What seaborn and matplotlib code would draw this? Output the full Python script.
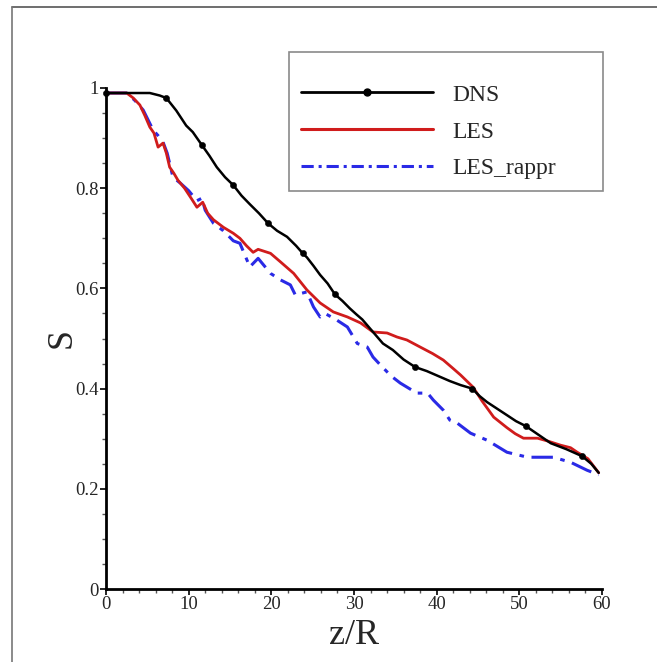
import numpy as np
import pandas as pd
import matplotlib
matplotlib.use("Agg")
import matplotlib.pyplot as plt
from matplotlib.lines import Line2D
from matplotlib.ticker import MultipleLocator, FuncFormatter
import seaborn as sns

# ---------------- data ----------------
dns_x = [0, 2, 4, 5.3, 6.5, 7.3, 8.5, 9.7, 10.5, 11.6, 12.5, 13.4, 14.4, 15.4, 16.4,
         17.4, 18.5, 19.6, 20.7, 21.9, 23.0, 23.8, 24.3, 25.1, 25.9, 26.8, 27.7, 28.6,
         29.5, 30.3, 31.0, 32.3, 33.5, 34.7, 36.0, 37.4, 38.8, 40.2, 41.6, 42.9, 44.3,
         45.2, 46.1, 47.3, 48.5, 49.6, 50.8, 52.3, 53.8, 55.7, 57.6, 58.7, 59.6]
dns_y = [0.99, 0.99, 0.99, 0.99, 0.985, 0.98, 0.955, 0.925, 0.912, 0.886, 0.865, 0.842,
         0.822, 0.806, 0.785, 0.768, 0.75, 0.73, 0.715, 0.703, 0.685, 0.67, 0.662, 0.645,
         0.627, 0.61, 0.588, 0.575, 0.56, 0.548, 0.538, 0.513, 0.49, 0.477, 0.458, 0.443,
         0.435, 0.425, 0.415, 0.407, 0.40, 0.385, 0.373, 0.36, 0.347, 0.335, 0.325, 0.308,
         0.291, 0.279, 0.265, 0.25, 0.232]
dns_marker_x = [0, 7.3, 11.6, 15.4, 19.6, 23.8, 27.7, 37.4, 44.3, 50.8, 57.6]

les_x = [0, 1.5, 2.5, 3.3, 4.1, 4.7, 5.3, 5.8, 6.3, 6.9, 7.3, 7.7, 8.2, 8.7, 9.5, 10.3,
         11.0, 11.7, 12.3, 13.0, 14.2, 15.4, 16.2, 17.0, 17.8, 18.4, 19.9, 21.1, 22.7,
         24.3, 25.9, 27.5, 29.2, 30.8, 32.3, 34.0, 35.2, 36.4, 38.0, 39.5, 40.8, 42.0,
         42.9, 44.4, 45.5, 46.9, 48.5, 49.5, 50.5, 52.2, 53.5, 55.0, 56.2, 57.0, 58.3, 59.6]
les_y = [0.99, 0.99, 0.99, 0.98, 0.966, 0.945, 0.922, 0.91, 0.882, 0.89, 0.87, 0.842,
         0.83, 0.816, 0.80, 0.78, 0.762, 0.772, 0.75, 0.737, 0.722, 0.71, 0.70, 0.685,
         0.672, 0.678, 0.67, 0.653, 0.63, 0.597, 0.571, 0.553, 0.543, 0.531, 0.513, 0.511,
         0.503, 0.497, 0.483, 0.47, 0.457, 0.44, 0.427, 0.403, 0.375, 0.343, 0.322, 0.31,
         0.301, 0.301, 0.295, 0.287, 0.282, 0.273, 0.26, 0.232]

rappr_x = [0, 1.5, 2.5, 3.5, 4.5, 5.7, 6.3, 6.9, 7.4, 8.1, 9.0, 10.0, 11.0, 11.6, 12.0,
           13.0, 14.2, 15.4, 16.2, 17.4, 18.4, 19.9, 21.1, 22.3, 22.9, 24.3, 25.1, 25.9,
           26.5, 27.9, 29.2, 30.4, 31.6, 32.3, 33.2, 34.5, 35.6, 37.6, 38.9, 39.6, 40.8,
           41.6, 42.5, 44.1, 46.1, 48.5, 51.0, 54.1, 56.2, 58.2, 59.6]
rappr_y = [0.99, 0.99, 0.99, 0.975, 0.956, 0.916, 0.905, 0.892, 0.87, 0.822, 0.81, 0.795,
           0.775, 0.78, 0.756, 0.73, 0.715, 0.695, 0.69, 0.643, 0.66, 0.63, 0.617, 0.607,
           0.587, 0.593, 0.563, 0.543, 0.55, 0.537, 0.523, 0.49, 0.483, 0.463, 0.447,
           0.425, 0.411, 0.391, 0.391, 0.377, 0.357, 0.337, 0.331, 0.311, 0.297, 0.273,
           0.263, 0.263, 0.253, 0.237, 0.228]

series_names = ["DNS", "LES", "LES_rappr"]
x_ticks = [0, 10, 20, 30, 40, 50, 60]
y_ticks = [0, 0.2, 0.4, 0.6, 0.8, 1]

# ---------------- styling ----------------
sns.set_style("white")
plt.rcParams["font.family"] = ["Liberation Serif", "DejaVu Serif"]

colors = {"DNS": "black", "LES": "#d01c1c", "LES_rappr": "#2a2ae6"}

fig = plt.figure(figsize=(6.57, 6.62), dpi=100)
ax = fig.add_axes([106 / 657, 1 - 589 / 662, 496 / 657, 501 / 662])

df_dns = pd.DataFrame({"x": dns_x, "y": dns_y})
df_les = pd.DataFrame({"x": les_x, "y": les_y})
df_rap = pd.DataFrame({"x": rappr_x, "y": rappr_y})
df_mark = df_dns[df_dns["x"].isin(dns_marker_x)]

sns.lineplot(data=df_rap, x="x", y="y", ax=ax, color=colors["LES_rappr"], lw=2.2,
             sort=False, estimator=None, linestyle=(0, (7, 2.5, 1.5, 2.5)), zorder=2)
sns.lineplot(data=df_les, x="x", y="y", ax=ax, color=colors["LES"], lw=2.0,
             sort=False, estimator=None, zorder=3)
sns.lineplot(data=df_dns, x="x", y="y", ax=ax, color=colors["DNS"], lw=1.8,
             sort=False, estimator=None, zorder=4)
sns.scatterplot(data=df_mark, x="x", y="y", ax=ax, color="black", s=20,
                edgecolor="black", zorder=5, clip_on=False)

ax.set_xlim(0, 60)
ax.set_ylim(0, 1)
ax.set_xticks(x_ticks)
ax.set_yticks(y_ticks)
ax.xaxis.set_minor_locator(MultipleLocator(2))
ax.yaxis.set_minor_locator(MultipleLocator(0.05))
ax.yaxis.set_major_formatter(FuncFormatter(lambda v, p: f"{v:g}"))
ax.xaxis.set_major_formatter(FuncFormatter(lambda v, p: f"{v:g}"))

for s in ["top", "right"]:
    ax.spines[s].set_visible(False)
for s in ["left", "bottom"]:
    ax.spines[s].set_linewidth(2)
    ax.spines[s].set_color("black")

ax.tick_params(axis="both", which="major", direction="out", length=4, width=1.2,
               color="black", labelsize=13.5, pad=1)
ax.tick_params(axis="both", which="minor", direction="out", length=3, width=1.0,
               color="#555555")
ax.tick_params(axis="both", which="both", left=True, bottom=True)

ax.set_xlabel("z/R", fontsize=26, labelpad=4)
ax.set_ylabel("S", fontsize=26, labelpad=-2)

handles = [
    Line2D([], [], color=colors["DNS"], lw=2.0, marker="o", ms=5),
    Line2D([], [], color=colors["LES"], lw=2.2),
    Line2D([], [], color=colors["LES_rappr"], lw=2.2, linestyle=(0, (4, 1.6, 1, 1.6))),
]
x0 = (289 - 106) / 496
y_top = (589 - 52) / 501
y_bot = (589 - 190) / 501
leg = ax.legend(handles, series_names, loc="upper left",
                bbox_to_anchor=(x0, y_bot, (603 - 289) / 496, y_top - y_bot),
                mode="expand", borderaxespad=0, fontsize=17, handlelength=5.6,
                handletextpad=0.8, labelspacing=0.65, borderpad=0.5,
                title=" ", title_fontsize=4,
                fancybox=False, framealpha=1, edgecolor="#8a8a8a")
leg.get_frame().set_linewidth(1.2)

# outer frame lines of the original figure
fig.add_artist(Line2D([12 / 657, 1], [1 - 7 / 662, 1 - 7 / 662], color="#555555",
                      lw=1.2, transform=fig.transFigure))
fig.add_artist(Line2D([12 / 657, 12 / 657], [0, 1 - 7 / 662], color="#777777",
                      lw=1.2, transform=fig.transFigure))

fig.savefig("out.png", dpi=100)
